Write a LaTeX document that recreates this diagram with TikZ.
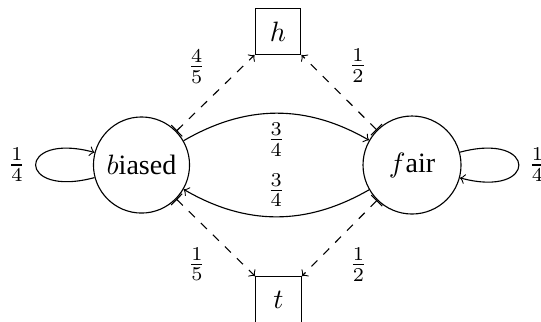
\documentclass[tikz,border=0pt]{standalone}
\usepackage{fontspec}
\setmainfont{Liberation Serif}
\begin{document}
\begin{tikzpicture}[x=0.35714pt,y=0.35714pt,
  state/.style={circle,draw,inner sep=3.33pt},
  obs/.style={rectangle,draw,minimum size=16.3pt,inner sep=2pt},
  trans/.style={->},
  emit/.style={dashed,|->}]
\useasboundingbox (0,0) rectangle (541,-321);
\node[state,minimum size=33.2pt] (b) at (141.5,-165) {$b$iased};
\node[state,minimum size=35pt] (f) at (412,-165) {$f$air};
\node[obs] (h) at (278,-31.5) {$h$};
\node[obs] (t) at (278.5,-299.5) {$t$};
\draw[trans] (b) to[bend left=30] node[below] {$\frac{3}{4}$} (f);
\draw[trans] (f) to[bend left=30] node[above] {$\frac{3}{4}$} (b);
\draw[trans] (b.195) .. controls +(195:29pt) and +(165:29pt) .. node[left] {$\frac{1}{4}$} (b.165);
\draw[trans] (f.15) .. controls +(15:29pt) and +(-15:29pt) .. node[right] {$\frac{1}{4}$} (f.-15);
\draw[emit] (b) -- node[above left] {$\frac{4}{5}$} (h.south west);
\draw[emit] (f) -- node[above right] {$\frac{1}{2}$} (h.south east);
\draw[emit] (b) -- node[below left] {$\frac{1}{5}$} (t.north west);
\draw[emit] (f) -- node[below right] {$\frac{1}{2}$} (t.north east);
\end{tikzpicture}
\end{document}
